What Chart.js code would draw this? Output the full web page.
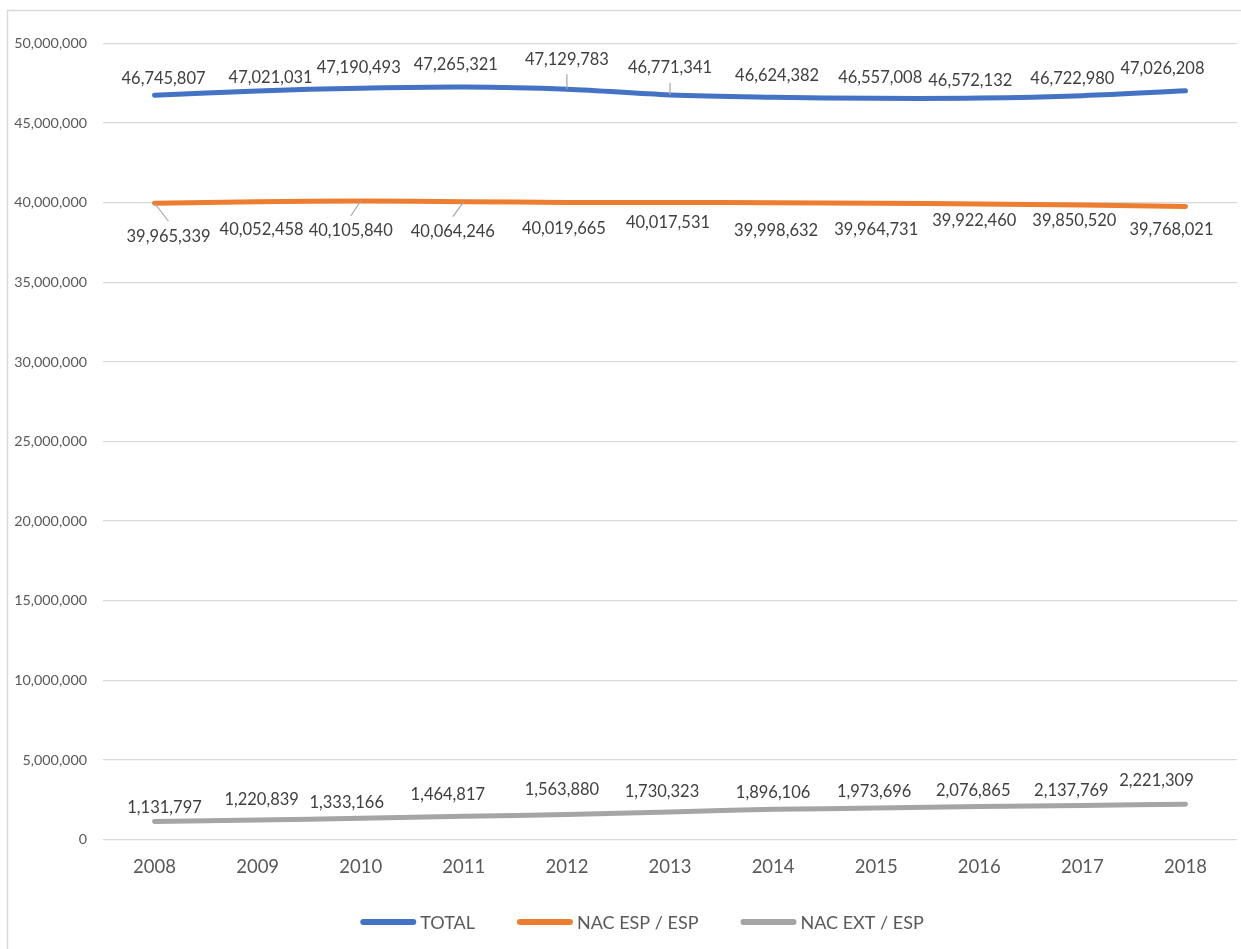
<!DOCTYPE html>
<html>
<head>
<meta charset="utf-8">
<script src="https://cdn.jsdelivr.net/npm/chart.js@4"></script>
<style>
  html, body { margin: 0; padding: 0; background: #fff; }
  #wrap { width: 1241px; height: 949px; }
</style>
</head>
<body>
<div id="wrap"><canvas id="chart" width="1241" height="949"></canvas></div>
<script>
"use strict";

const years = ["2008", "2009", "2010", "2011", "2012", "2013", "2014", "2015", "2016", "2017", "2018"];
const seriesNames = ["TOTAL", "NAC ESP / ESP", "NAC EXT / ESP"];
const total = [46745807, 47021031, 47190493, 47265321, 47129783, 46771341, 46624382, 46557008, 46572132, 46722980, 47026208];
const nacEsp = [39965339, 40052458, 40105840, 40064246, 40019665, 40017531, 39998632, 39964731, 39922460, 39850520, 39768021];
const nacExt = [1131797, 1220839, 1333166, 1464817, 1563880, 1730323, 1896106, 1973696, 2076865, 2137769, 2221309];
const yTicks = [0, 5000000, 10000000, 15000000, 20000000, 25000000, 30000000, 35000000, 40000000, 45000000, 50000000];

// where Excel put each data label, relative to its point (dx, dy)
const labelNudge = [
    [[9, -17], [13, -13], [-2, -21], [-8, -22], [0, -30], [0, -27], [4, -22], [4, -21], [-9, -17], [-10, -17], [-23, -22]],
    [[14, 33], [4, 28], [-10, 30], [-11, 30], [-3, 26], [-2, 20], [3, 28], [0, 26], [-5, 17], [-8, 16], [-14, 23]],
    [[10, -14], [4, -20], [-14, -16], [-16, -22], [-5, -25], [-8, -20], [0, -17], [-2, -16], [-6, -16], [-11, -15], [-29, -23]]
];
const leaderLines = [[4, 5], [0, 2, 3], []];

const colors = ["#4472C4", "#ED7D31", "#A5A5A5"];
const FONT = "Lato, 'Open Sans', sans-serif";
const fmt = v => v.toLocaleString("en-US");

const excelLook = {
    id: "excelLook",
    beforeDraw(chart) {
        const ctx = chart.ctx;
        ctx.save();
        ctx.fillStyle = "#fff";
        ctx.fillRect(0, 0, chart.width, chart.height);
        ctx.strokeStyle = "#d9d9d9";
        ctx.lineWidth = 1.5;
        ctx.strokeRect(7.5, 10.5, chart.width + 20, chart.height + 20);
        ctx.restore();
    },
    afterDatasetsDraw(chart) {
        const ctx = chart.ctx;
        ctx.save();
        ctx.font = "16.5px " + FONT;
        ctx.textAlign = "center";
        ctx.textBaseline = "middle";
        chart.data.datasets.forEach((ds, i) => {
            const meta = chart.getDatasetMeta(i);
            meta.data.forEach((pt, j) => {
                const [dx, dy] = labelNudge[i][j];
                const lx = pt.x + dx, ly = pt.y + dy;
                if (leaderLines[i].includes(j)) {
                    ctx.strokeStyle = "#a6a6a6";
                    ctx.lineWidth = 1.2;
                    ctx.beginPath();
                    ctx.moveTo(pt.x, pt.y);
                    ctx.lineTo(lx, ly + (dy < 0 ? 15 : -15));
                    ctx.stroke();
                }
                ctx.fillStyle = "#404040";
                ctx.fillText(fmt(ds.data[j]), lx, ly);
            });
        });

        // legend
        ctx.font = "18px " + FONT;
        ctx.textAlign = "left";
        const boxW = 56, gap = 4, itemGap = 42;
        const widths = chart.data.datasets.map(ds => boxW + gap + ctx.measureText(ds.label).width);
        const full = widths.reduce((a, b) => a + b, 0) + itemGap * (widths.length - 1);
        let x = 642 - full / 2;
        const y = 922;
        chart.data.datasets.forEach((ds, i) => {
            ctx.strokeStyle = ds.borderColor;
            ctx.lineWidth = 6;
            ctx.lineCap = "round";
            ctx.beginPath();
            ctx.moveTo(x + 3, y);
            ctx.lineTo(x + boxW - 3, y);
            ctx.stroke();
            ctx.fillStyle = "#595959";
            ctx.fillText(ds.label, x + boxW + gap, y + 1);
            x += widths[i] + itemGap;
        });
        ctx.restore();
    }
};

const seriesData = [total, nacEsp, nacExt];

new Chart(document.getElementById("chart").getContext("2d"), {
    type: "line",
    data: {
        labels: years,
        datasets: seriesNames.map((name, i) => ({
            label: name,
            data: seriesData[i],
            borderColor: colors[i],
            backgroundColor: colors[i],
            borderWidth: 5,
            borderCapStyle: "round",
            borderJoinStyle: "round",
            pointRadius: 0,
            pointHoverRadius: 0,
            tension: 0.35,
            fill: false
        }))
    },
    options: {
        responsive: false,
        animation: false,
        layout: { padding: { top: 43.5, right: 4, bottom: 70.5, left: 0 } },
        plugins: {
            legend: { display: false },
            tooltip: { enabled: false }
        },
        scales: {
            x: {
                offset: true,
                grid: { display: false, drawTicks: false },
                border: { display: false },
                ticks: { color: "#595959", font: { family: FONT, size: 18.5 }, padding: 16, maxRotation: 0 },
                afterFit(scale) { scale.height = 39; }
            },
            y: {
                min: 0,
                max: 50000000,
                afterBuildTicks(scale) { scale.ticks = yTicks.map(v => ({ value: v })); },
                grid: { color: "#d9d9d9", lineWidth: 1.3, drawTicks: false },
                border: { display: false },
                ticks: { color: "#595959", font: { family: FONT, size: 14.3 }, padding: 16, callback: v => fmt(v) },
                afterFit(scale) { scale.width = 103; }
            }
        }
    },
    plugins: [excelLook]
});
</script>
</body>
</html>
